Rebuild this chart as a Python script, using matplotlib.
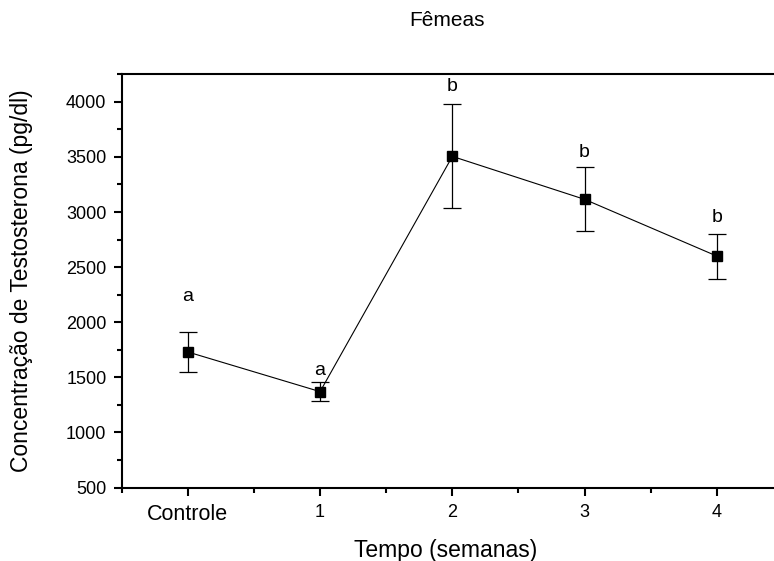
import matplotlib
matplotlib.use("Agg")
import matplotlib.pyplot as plt
from matplotlib.ticker import MultipleLocator

plt.rcParams['font.family'] = ['Liberation Sans', 'DejaVu Sans']

categories = ["Controle", "1", "2", "3", "4"]
means = [1730, 1370, 3505, 3115, 2600]
errors = [185, 85, 472, 290, 205]
letters = ["a", "a", "b", "b", "b"]
letter_y = [2230, 1560, 4140, 3540, 2950]

fig = plt.figure(figsize=(7.74, 5.61), dpi=100)
ax = fig.add_axes([121.7/774, 1-487.5/561, (783-121.7)/774, (487.5-74.3)/561])

x = list(range(len(categories)))
ax.errorbar(x, means, yerr=errors, fmt='s-', color='black', lw=0.8,
            elinewidth=0.9, capsize=6.5, capthick=0.9, markersize=7,
            markerfacecolor='black', markeredgecolor='black')

for xi, lab, ly in zip(x, letters, letter_y):
    ax.text(xi, ly, lab, ha='center', va='center', fontsize=14)

ax.set_xlim(-0.5, 4.5)
ax.set_ylim(500, 4250)
ax.set_xticks(x)
ax.set_xticklabels(categories)
ax.xaxis.set_minor_locator(MultipleLocator(0.5))
ax.set_yticks([500, 1000, 1500, 2000, 2500, 3000, 3500, 4000])
ax.yaxis.set_minor_locator(MultipleLocator(250))

ax.tick_params(axis='both', which='major', direction='out', length=6, width=1.5, labelsize=13)
ax.tick_params(axis='both', which='minor', direction='out', length=3.6, width=1.5)
ax.tick_params(axis='y', which='major', pad=5)
ax.tick_params(axis='x', which='major', pad=6)
for lbl in ax.get_xticklabels():
    if lbl.get_text() == "Controle":
        lbl.set_fontsize(15.5)
for s in ax.spines.values():
    s.set_linewidth(1.5)

ax.set_xlabel("Tempo (semanas)", fontsize=16.5)
ax.xaxis.set_label_coords((446-121.7)/661.3, (487.5-539)/413.2)
ax.set_ylabel("Concentração de Testosterona (pg/dl)", fontsize=16.5)
ax.yaxis.set_label_coords((33-121.7)/661.3, 0.5)

fig.text(447/774, 1-20/561, "Fêmeas", ha='center', va='center', fontsize=15)

fig.savefig("out.png", dpi=100)
